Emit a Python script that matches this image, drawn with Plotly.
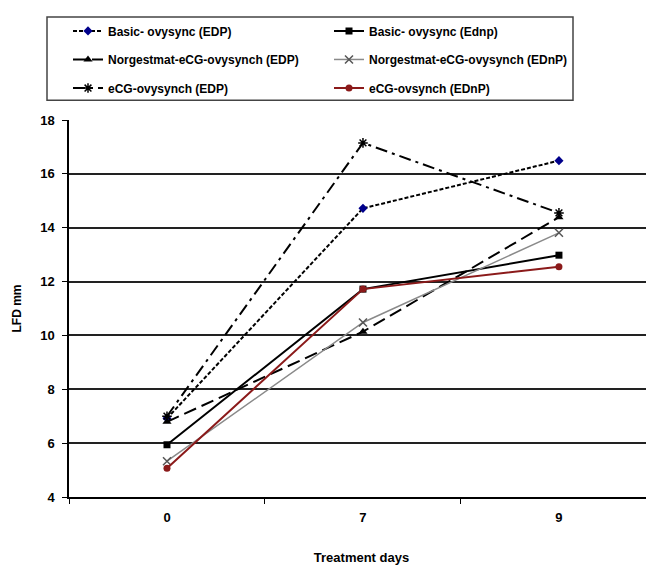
import plotly.graph_objects as go

days = ["0", "7", "9"]
basic_edp = [6.92, 14.72, 16.49]
basic_ednp = [5.94, 11.72, 12.98]
norg_edp = [6.79, 10.14, 14.39]
norg_ednp = [5.33, 10.48, 13.81]
ecg_edp = [7.0, 17.15, 14.55]
ecg_ednp = [5.07, 11.72, 12.55]

names = [
    "Basic- ovysync (EDP)",
    "Basic- ovysync (Ednp)",
    "Norgestmat-eCG-ovysynch (EDP)",
    "Norgestmat-eCG-ovysynch (EDnP)",
    "eCG-ovysynch (EDP)",
    "eCG-ovsynch (EDnP)",
]

FONT = "Liberation Sans Narrow, Liberation Sans, Arial, sans-serif"

styles = [
    dict(y=basic_edp, line=dict(color="black", width=2, dash="4px,2px"),
         marker=dict(symbol="diamond", size=7, color="#00008B"), legend="legend"),
    dict(y=basic_ednp, line=dict(color="black", width=2),
         marker=dict(symbol="square", size=7, color="black"), legend="legend"),
    dict(y=norg_edp, line=dict(color="black", width=2, dash="13px,6px"),
         marker=dict(symbol="triangle-up", size=8, color="black"), legend="legend2"),
    dict(y=norg_ednp, line=dict(color="#8a8a8a", width=1.5),
         marker=dict(symbol="x-thin", size=8, color="#555",
                     line=dict(color="#555", width=1.5)), legend="legend2"),
    dict(y=ecg_edp, line=dict(color="black", width=2, dash="12px,5px,3px,5px"),
         marker=dict(symbol="asterisk", size=8, color="black",
                     line=dict(color="black", width=1.5)), legend="legend3"),
    dict(y=ecg_ednp, line=dict(color="#8B1A1A", width=2),
         marker=dict(symbol="circle", size=7, color="#8B1A1A"), legend="legend3"),
]

fig = go.Figure()
for name, st in zip(names, styles):
    fig.add_trace(go.Scatter(x=days, y=st["y"], name=name, mode="lines+markers",
                             line=st["line"], marker=st["marker"], legend=st["legend"]))

H = 383.0
def py(p):
    return 1 + (114 - p) / H

def px(p):
    return (p - 69) / 585.0

leg_common = dict(orientation="h", xanchor="left", yanchor="middle",
                  x=px(68), entrywidth=216, entrywidthmode="pixels",
                  font=dict(family=FONT, size=12, color="black", weight="bold"),
                  bgcolor="rgba(0,0,0,0)", borderwidth=0)

fig.update_layout(
    width=654, height=565,
    margin=dict(l=61, r=8, t=106, b=76),
    paper_bgcolor="white", plot_bgcolor="white",
    font=dict(family=FONT, color="black"),
    legend=dict(leg_common, y=py(23.5)),
    legend2=dict(leg_common, y=py(52.5)),
    legend3=dict(leg_common, y=py(81.5)),
    xaxis=dict(type="category", range=[-0.5, 2.485], tickson="boundaries",
               ticks="outside", ticklen=5, tickcolor="black", showgrid=False,
               showline=True, linecolor="black", linewidth=1.5,
               ticklabelstandoff=8,
               tickfont=dict(family=FONT, size=13, weight="bold"),
               title=dict(text="Treatment days", standoff=29,
                          font=dict(family=FONT, size=13, weight="bold"))),
    yaxis=dict(range=[4, 18], dtick=2, showgrid=True, gridcolor="#222", gridwidth=1.5,
               zeroline=False, showline=True, linecolor="black", linewidth=1.5,
               ticks="outside", ticklen=5, tickcolor="black",
               ticklabelstandoff=5,
               tickfont=dict(family=FONT, size=13, weight="bold"),
               title=dict(text="LFD mm", standoff=16,
                          font=dict(family=FONT, size=12, weight="bold"))),
    shapes=[dict(type="rect", xref="paper", yref="paper",
                 x0=px(47), x1=px(573), y0=py(94), y1=py(9.3),
                 line=dict(color="#444", width=1.5), fillcolor="rgba(0,0,0,0)")],
)

fig.write_html("out.html")
